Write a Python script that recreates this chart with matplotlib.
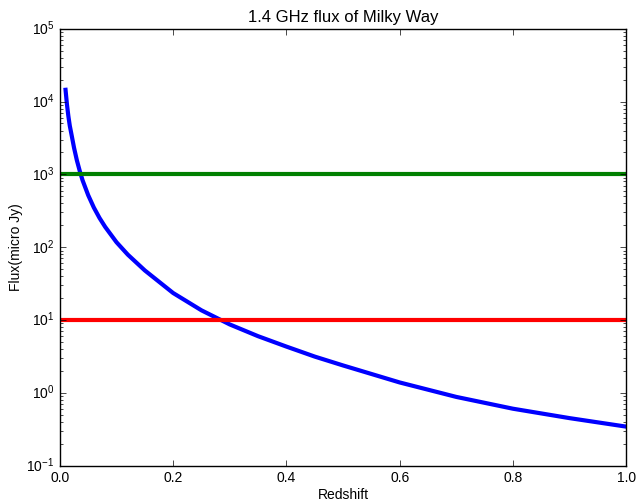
import matplotlib
matplotlib.use("Agg")
import matplotlib.pyplot as plt

# redshift vs flux of the Milky Way at 1.4 GHz
redshift = [0.01, 0.0125, 0.015, 0.0175, 0.02, 0.025, 0.03, 0.035, 0.04, 0.05, 0.06, 0.07,
            0.08, 0.1, 0.12, 0.15, 0.2, 0.25, 0.3, 0.35, 0.4, 0.45, 0.5, 0.6, 0.7, 0.8, 0.9, 1.0]
flux = [14500, 9100, 6300, 4650, 3700, 2320, 1560, 1120, 833, 518, 350, 252,
        190, 117, 79, 48, 23.5, 13.6, 8.7, 6.0, 4.32, 3.15, 2.38, 1.39, 0.88, 0.606, 0.45, 0.344]

# detection limits (micro Jy)
limit_x = [0.0, 1.0]
limit_high = 1000
limit_low = 10

plt.style.use('classic')
plt.rcParams['font.family'] = ['Liberation Sans', 'DejaVu Sans']
plt.rcParams['font.size'] = 10

fig = plt.figure(figsize=(6.37, 5.04), dpi=100, facecolor='white')
ax = fig.add_axes([0.094, 0.076, 0.889, 0.867])
ax.set_facecolor('white')

ax.semilogy(redshift, flux, color='b', lw=3)
ax.plot(limit_x, [limit_high, limit_high], color='g', lw=3)
ax.plot(limit_x, [limit_low, limit_low], color='r', lw=3)

ax.set_xlim(0, 1)
ax.set_ylim(1e-1, 1e5)
ax.set_xticks([0.0, 0.2, 0.4, 0.6, 0.8, 1.0])
ax.set_xlabel('Redshift', labelpad=2)
ax.set_ylabel('Flux(micro Jy)', labelpad=2)
ax.set_title('1.4 GHz flux of Milky Way')

plt.savefig('out.png', dpi=100, facecolor='white')
plt.close()
